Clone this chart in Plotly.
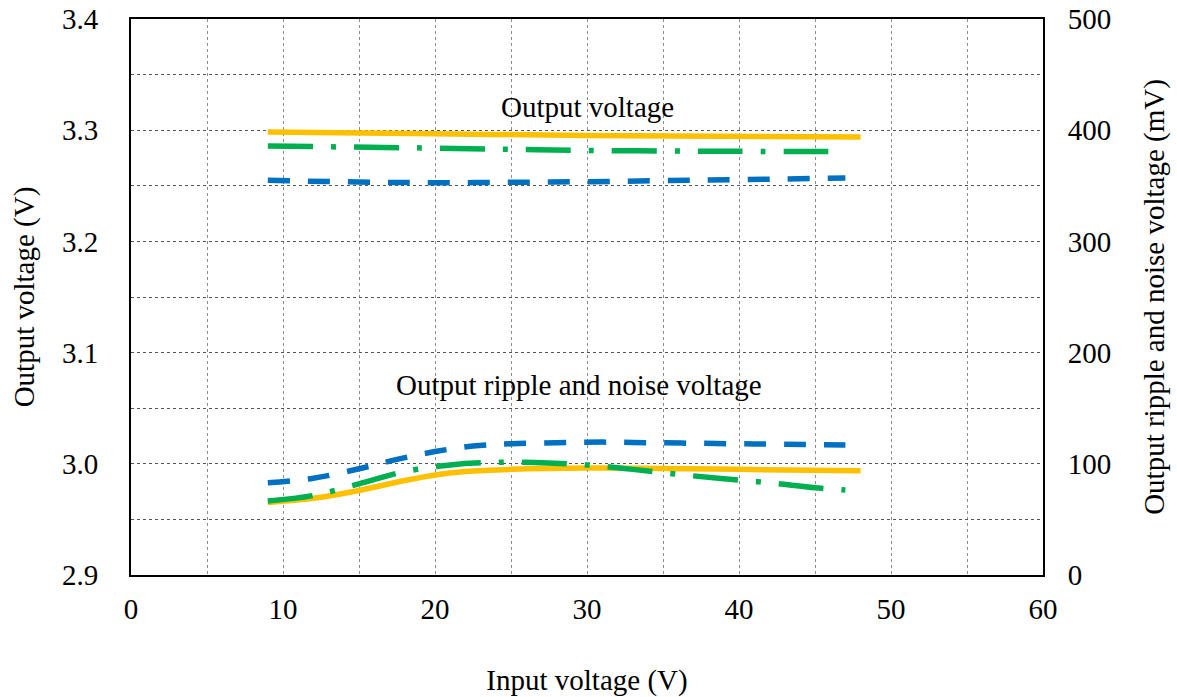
import plotly.graph_objects as go

# Output voltage (left axis, V)
vin_out_orange = [9, 20, 30, 48]
vout_orange = [3.2983, 3.2968, 3.2953, 3.2938]
vin_out_green = [9, 20, 30, 40, 47]
vout_green = [3.2857, 3.2839, 3.2818, 3.2810, 3.2807]
vin_out_blue = [9, 15, 20, 25, 30, 35, 40, 47]
vout_blue = [3.2549, 3.2534, 3.2528, 3.2531, 3.2537, 3.2546, 3.2555, 3.2570]

# Ripple and noise (right axis, mV)
vin_rip_orange = [9, 12, 15, 18, 20, 22, 25, 30, 35, 40, 48]
rip_orange = [65.3, 69, 76, 85, 90, 93, 95, 96.2, 95.8, 95, 93.7]
vin_rip_green = [9, 12, 15, 18, 21, 24, 27, 30, 33, 36, 39, 42, 45, 47]
rip_green = [66.5, 71.5, 82, 93, 99, 101.3, 101, 99, 95, 90.5, 86.5, 83, 78.5, 76.5]
vin_rip_blue = [9, 12, 15, 17.5, 20, 22.5, 25, 28, 31, 34, 37, 40, 43, 47]
rip_blue = [83, 87, 95.5, 104, 111, 116, 118, 119, 119.5, 119, 118.5, 118, 117.5, 116.8]

ORANGE = "#FFC000"
GREEN = "#00B050"
BLUE = "#0070C0"
GREEN_DASH = "45px,18px,5px,18px"
BLUE_DASH = "22px,18px"
FONT = "Liberation Serif"
TXT = dict(family=FONT, size=29, color="black")

fig = go.Figure()

def add(x, y, color, dash, axis):
    fig.add_trace(go.Scatter(
        x=x, y=y, mode="lines", yaxis=axis,
        line=dict(color=color, width=5.5, dash=dash, shape="spline", smoothing=1.0),
        showlegend=False, hoverinfo="skip"))

add(vin_out_orange, vout_orange, ORANGE, "solid", "y")
add(vin_out_green, vout_green, GREEN, GREEN_DASH, "y")
add(vin_out_blue, vout_blue, BLUE, BLUE_DASH, "y")
add(vin_rip_orange, rip_orange, ORANGE, "solid", "y2")
add(vin_rip_green, rip_green, GREEN, GREEN_DASH, "y2")
add(vin_rip_blue, rip_blue, BLUE, BLUE_DASH, "y2")

fig.update_layout(
    width=1177, height=697,
    margin=dict(l=130.5, r=133.5, t=18.5, b=121.5, autoexpand=False),
    paper_bgcolor="white", plot_bgcolor="white",
    font=TXT,
    xaxis=dict(
        range=[0, 60], dtick=10, tick0=0, showgrid=True, automargin=False,
        gridcolor="#8c8c8c", griddash="dot", gridwidth=1,
        minor=dict(dtick=5, showgrid=True, gridcolor="#8c8c8c", griddash="dot", gridwidth=1),
        showline=True, linecolor="black", linewidth=2, mirror=True,
        zeroline=False, ticks="", ticklabelstandoff=7, tickfont=TXT,
        title=dict(text="Input voltage (V)", standoff=46, font=TXT),
    ),
    yaxis=dict(
        range=[2.9, 3.4], dtick=0.1, tick0=2.9, tickformat=".1f", automargin=False,
        showgrid=True, gridcolor="#555555", griddash="dot", gridwidth=1,
        minor=dict(dtick=0.05, showgrid=True, gridcolor="#555555", griddash="dot", gridwidth=1),
        showline=True, linecolor="black", linewidth=2,
        zeroline=False, ticks="", ticklabelstandoff=25, tickfont=TXT,
        title=dict(text="Output voltage (V)", standoff=19, font=TXT),
    ),
    yaxis2=dict(
        range=[0, 500], dtick=100, tick0=0, overlaying="y", side="right", automargin=False,
        showgrid=False, showline=True, linecolor="black", linewidth=2,
        zeroline=False, ticks="", ticklabelstandoff=17, tickfont=TXT,
        title=dict(text="Output ripple and noise voltage (mV)", standoff=33, font=TXT),
    ),
    annotations=[
        dict(x=30.05, y=3.321, xref="x", yref="y", text="Output voltage",
             showarrow=False, font=TXT),
        dict(x=29.5, y=3.071, xref="x", yref="y", text="Output ripple and noise voltage",
             showarrow=False, font=TXT),
    ],
)

fig.write_html("out.html", config={"displayModeBar": False},
               post_script="document.body.style.margin='0';")
